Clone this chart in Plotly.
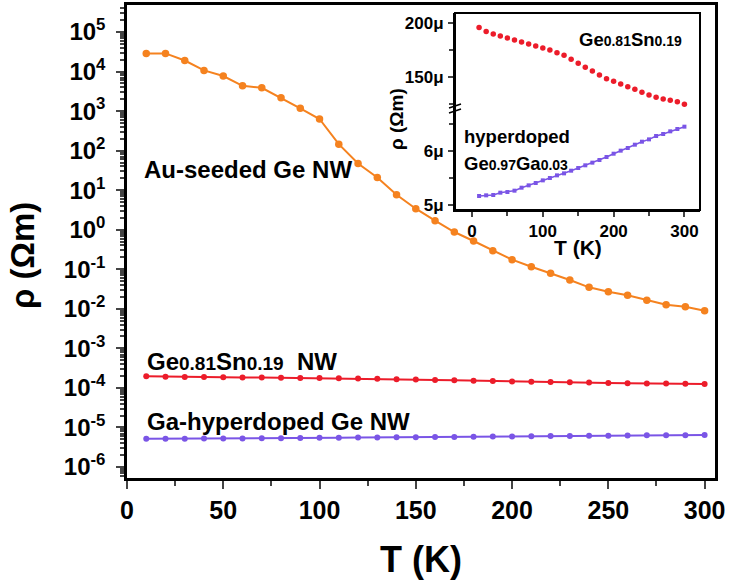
import plotly.graph_objects as go

# ---------------- data ----------------
T = [10, 20, 30, 40, 50, 60, 70, 80, 90, 100, 110, 120, 130, 140, 150,
     160, 170, 180, 190, 200, 210, 220, 230, 240, 250, 260, 270, 280, 290, 300]

rho_au = [28800, 28800, 19000, 10700, 7700, 4360, 3890, 2190, 1175, 631,
          146, 47.4, 20.9, 7.69, 3.40, 1.69, 0.875, 0.519, 0.295, 0.175,
          0.116, 0.0791, 0.0536, 0.0350, 0.0271, 0.0220, 0.0164, 0.0127, 0.0113, 0.00895]

# micro-ohm-metre values
rho_gesn_u = [196.0, 192.3, 190.1, 188.2, 186.4, 184.5, 182.7, 180.8, 179.0, 177.1,
              175.3, 172.8, 170.4, 166.7, 163.0, 159.3, 155.8, 152.1, 148.7, 146.3,
              143.8, 141.3, 138.9, 136.1, 133.6, 131.5, 129.9, 128.7, 127.4, 125.0]

rho_gega_u = [5.166, 5.178, 5.184, 5.227, 5.239, 5.264, 5.319, 5.362, 5.405, 5.454,
              5.497, 5.546, 5.583, 5.632, 5.681, 5.731, 5.780, 5.829, 5.884, 5.945,
              6.001, 6.050, 6.111, 6.166, 6.209, 6.271, 6.308, 6.357, 6.400, 6.443]

y_exponents = list(range(-6, 6))
x_ticks = [0, 50, 100, 150, 200, 250, 300]
inset_x_ticks = [0, 100, 200, 300]

ORANGE = "#F5821F"
RED = "#EC1C2A"
PURPLE = "#7A55E6"
FONT = "Liberation Sans, Arial, Helvetica, sans-serif"

rho_gesn = [v * 1e-6 for v in rho_gesn_u]
rho_gega = [v * 1e-6 for v in rho_gega_u]

# ---------------- layout helpers (pixel -> paper) ----------------
W, H = 730, 583
L, R, TOP, B = 127, 715, 5, 478


def px(x):
    return (x - L) / (R - L)


def py(y):
    return (B - y) / (B - TOP)


fig = go.Figure()

# main traces
fig.add_trace(go.Scatter(x=T, y=rho_au, mode="lines+markers",
                         line=dict(color=ORANGE, width=2),
                         marker=dict(color=ORANGE, size=7.5), showlegend=False))
fig.add_trace(go.Scatter(x=T, y=rho_gesn, mode="lines+markers",
                         line=dict(color=RED, width=2),
                         marker=dict(color=RED, size=6), showlegend=False))
fig.add_trace(go.Scatter(x=T, y=rho_gega, mode="lines+markers",
                         line=dict(color=PURPLE, width=2),
                         marker=dict(color=PURPLE, size=6), showlegend=False))

# inset traces
fig.add_trace(go.Scatter(x=T, y=rho_gesn_u, mode="markers", xaxis="x3", yaxis="y2",
                         marker=dict(color=RED, size=5.5), showlegend=False))
fig.add_trace(go.Scatter(x=T, y=rho_gega_u, mode="lines+markers", xaxis="x2", yaxis="y3",
                         line=dict(color=PURPLE, width=1.5),
                         marker=dict(color=PURPLE, size=4, symbol="square"), showlegend=False))

minor_y = [k * 10.0 ** n for n in range(-7, 6) for k in range(2, 10)]

inset_x_dom = [px(455), px(700)]
top_dom = [py(110), py(13)]
bot_dom = [py(210), py(110)]

fig.update_layout(
    width=W, height=H,
    margin=dict(l=L, r=W - R, t=TOP, b=H - B, autoexpand=False),
    paper_bgcolor="white", plot_bgcolor="white",
    font=dict(family=FONT, color="black", weight="bold"),
    xaxis=dict(
        range=[0, 305.4], tickvals=x_ticks, ticks="outside", ticklen=8, tickwidth=2,
        minor=dict(tickvals=[25, 75, 125, 175, 225, 275], ticks="outside", ticklen=5, tickwidth=2),
        showline=True, linewidth=2.5, linecolor="black", mirror=True, showgrid=False, zeroline=False,
        tickfont=dict(size=25, family=FONT, weight="bold"),
        title=dict(text="T (K)", font=dict(size=36, family=FONT, weight="bold"), standoff=25),
        automargin=False,
    ),
    yaxis=dict(
        type="log", range=[-6.278, 5.683],
        tickvals=[10.0 ** e for e in y_exponents],
        ticktext=["10<sup>%d</sup>" % e for e in y_exponents],
        ticks="outside", ticklen=8, tickwidth=2,
        minor=dict(tickvals=minor_y, ticks="outside", ticklen=4, tickwidth=1.5),
        showline=True, linewidth=2.5, linecolor="black", mirror=True, showgrid=False, zeroline=False,
        tickfont=dict(size=24, family=FONT, weight="bold"),
        ticklabelstandoff=6,
        automargin=False,
    ),
    # inset x (bottom segment)
    xaxis2=dict(
        domain=inset_x_dom, anchor="y3", range=[-24, 322],
        tickvals=inset_x_ticks, ticks="outside", ticklen=5, tickwidth=1.5,
        minor=dict(tickvals=[50, 150, 250], ticks="outside", ticklen=4, tickwidth=1.5),
        showline=True, linewidth=2, linecolor="black", showgrid=False, zeroline=False,
        tickfont=dict(size=17, family=FONT, weight="bold"), automargin=False,
    ),
    xaxis3=dict(
        domain=inset_x_dom, anchor="y2", range=[-24, 322], matches="x2",
        visible=False,
    ),
    yaxis2=dict(
        domain=top_dom, anchor="x3", range=[119.7, 209.5],
        tickvals=[150, 200], ticktext=["150μ", "200μ"],
        ticks="outside", ticklen=5, tickwidth=1.5,
        minor=dict(tickvals=[125, 175], ticks="outside", ticklen=4, tickwidth=1.5),
        showline=True, linewidth=2, linecolor="black", showgrid=False, zeroline=False,
        tickfont=dict(size=17, family=FONT, weight="bold"), ticklabelstandoff=1, automargin=False,
    ),
    yaxis3=dict(
        domain=bot_dom, anchor="x2", range=[4.908, 6.75],
        tickvals=[5, 6], ticktext=["5μ", "6μ"],
        ticks="outside", ticklen=5, tickwidth=1.5,
        minor=dict(tickvals=[5.5, 6.5], ticks="outside", ticklen=4, tickwidth=1.5),
        showline=True, linewidth=2, linecolor="black", showgrid=False, zeroline=False,
        tickfont=dict(size=17, family=FONT, weight="bold"), ticklabelstandoff=1, automargin=False,
    ),
)

# inset frame and axis break marks
shapes = [
    dict(type="rect", xref="paper", yref="paper", x0=px(455), x1=px(700), y0=py(210), y1=py(13),
         line=dict(color="black", width=2), fillcolor="rgba(0,0,0,0)", layer="above"),
    dict(type="line", xref="paper", yref="paper", x0=px(449), y0=py(108), x1=px(461), y1=py(104),
         line=dict(color="black", width=1.5)),
    dict(type="line", xref="paper", yref="paper", x0=px(449), y0=py(113), x1=px(461), y1=py(109),
         line=dict(color="black", width=1.5)),
]
fig.update_layout(shapes=shapes)

ann = []


def add_text(text, x, y, size, xanchor="left", angle=0):
    ann.append(dict(text=text, x=px(x), y=py(y), xref="paper", yref="paper",
                    xanchor=xanchor, yanchor="middle", showarrow=False, textangle=angle,
                    font=dict(size=size, family=FONT, color="black", weight="bold")))


# main y-axis title
add_text("ρ (Ωm)", 22, 256, 33, xanchor="center", angle=-90)

add_text("Au-seeded Ge NW", 142, 170, 24)
add_text("Ge<span style='font-size:19px'>0.81</span>Sn<span style='font-size:19px'>0.19</span>\u00a0\u00a0NW",
         145, 361, 24)
add_text("Ga-hyperdoped Ge NW", 145, 421, 24)
add_text("Ge<span style='font-size:14px'>0.81</span>Sn<span style='font-size:14px'>0.19</span>",
         577, 39, 18.5)
add_text("hyperdoped", 462, 136, 18.5)
add_text("Ge<span style='font-size:14px'>0.97</span>Ga<span style='font-size:14px'>0.03</span>",
         462, 163, 18.5)
add_text("T (K)", 578, 247, 21, xanchor="center")
add_text("ρ (Ωm)", 397, 119, 19, xanchor="center", angle=-90)

fig.update_layout(annotations=ann)

fig.write_html("out.html", config={"displayModeBar": False},
               post_script="document.body.style.margin='0px';")
